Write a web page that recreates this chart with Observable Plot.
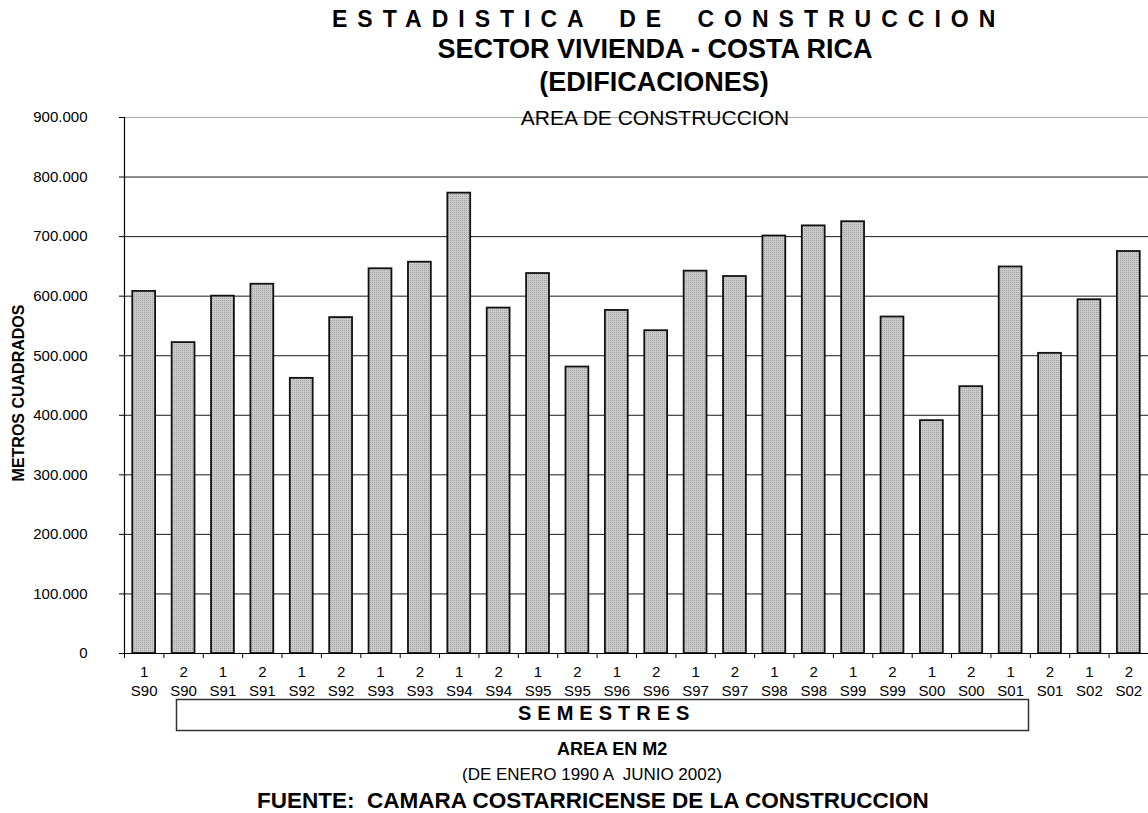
<!DOCTYPE html>
<html><head><meta charset="utf-8">
<script src="https://cdn.jsdelivr.net/npm/d3@7"></script>
<script src="https://cdn.jsdelivr.net/npm/@observablehq/plot@0.6"></script>
<style>
body{margin:0;background:#fff;}
#chart{position:relative;width:1148px;height:813px;}
</style>
</head><body><div id="chart"></div>
<script>
// ---- data ----
const semester = ["1","2","1","2","1","2","1","2","1","2","1","2","1","2","1","2","1","2","1","2","1","2","1","2","1","2"];
const years = ["S90","S90","S91","S91","S92","S92","S93","S93","S94","S94","S95","S95","S96","S96","S97","S97","S98","S98","S99","S99","S00","S00","S01","S01","S02","S02"];
const areaM2 = [608000,522000,600000,620000,462000,564000,646000,657000,773000,580000,638000,481000,576000,542000,642000,633000,701000,718000,725000,565000,391000,448000,649000,504000,594000,675000];
const yTicks = [0,100000,200000,300000,400000,500000,600000,700000,800000,900000];

const categories = semester.map((s, i) => s + "\n" + years[i]);
const data = categories.map((c, i) => ({cat: c, value: areaM2[i]}));

const W = 1148, H = 813, ML = 124, MT = 117, MB = 160;
const step = (W - ML) / categories.length;
const fmt = d => d === 0 ? "0" : d3.format(",")(d).replace(/,/g, ".");
const FONT = "'Liberation Sans', Arial, sans-serif";

const plot = Plot.plot({
  width: W, height: H,
  marginLeft: ML, marginRight: 0, marginTop: MT, marginBottom: MB,
  style: {fontFamily: FONT, fontSize: "15px", color: "#000", background: "#fff", overflow: "visible"},
  x: {domain: categories, paddingInner: 0.42, paddingOuter: 0.21, align: 0.5, round: false, label: null},
  y: {domain: [0, 900000], label: null},
  marks: [
    Plot.ruleY(yTicks.filter(d => d > 0 && d < 900000), {stroke: "#1a1a1a", strokeWidth: 1}),
    Plot.ruleY([900000], {stroke: "#a8a8a8", strokeWidth: 1}),
    Plot.barY(data, {x: "cat", y: "value", fill: "url(#barDots)", stroke: "#111", strokeWidth: 1.8}),
    Plot.ruleY([0], {stroke: "#000", strokeWidth: 1.2}),
    Plot.ruleX([categories[0]], {dx: -step / 2, y1: 0, y2: 900000, stroke: "#000", strokeWidth: 1.2}),
    Plot.axisY({ticks: yTicks, tickFormat: fmt, tickSize: 5, tickPadding: 32, label: null, fontSize: 15}),
    Plot.axisX({ticks: categories, tickSize: 5, tickFormat: () => "", dx: -step / 2, label: null}),
    Plot.axisX({ticks: categories, tickSize: 0, tickPadding: 10, lineHeight: 1.27, label: null, fontSize: 15})
  ]
});

const svg = d3.select(plot);
const defs = svg.insert("defs", ":first-child");
const pat = defs.append("pattern").attr("id", "barDots").attr("width", 2).attr("height", 2).attr("patternUnits", "userSpaceOnUse");
pat.append("rect").attr("width", 2).attr("height", 2).attr("fill", "#cacaca");
pat.append("rect").attr("width", 1).attr("height", 1).attr("fill", "#a4a4a4");

function txt(s, x, y, size, weight, opts = {}) {
  const t = svg.append("text")
    .attr("x", x).attr("y", y)
    .attr("font-family", FONT)
    .attr("font-size", size)
    .attr("font-weight", weight)
    .attr("fill", "#000")
    .attr("text-anchor", opts.anchor || "start")
    .style("white-space", "pre")
    .attr("xml:space", "preserve")
    .text(s);
  if (opts.ls) t.attr("letter-spacing", opts.ls);
  if (opts.ws) t.attr("word-spacing", opts.ws);
  if (opts.transform) t.attr("transform", opts.transform);
  return t;
}

// titles
txt("ESTADISTICA DE CONSTRUCCION", 332, 27, 23, "bold", {ls: 10, ws: 10});
txt("SECTOR VIVIENDA - COSTA RICA", 655, 58, 27, "bold", {anchor: "middle"});
txt("(EDIFICACIONES)", 654, 91, 27, "bold", {anchor: "middle"});
txt("AREA DE CONSTRUCCION", 655, 125, 21, "normal", {anchor: "middle"});

// y title
txt("METROS CUADRADOS", 0, 0, 16, "bold", {anchor: "middle", transform: "translate(24,393) rotate(-90)"});

// x title box
svg.append("rect").attr("x", 176.5).attr("y", 699.5).attr("width", 852).attr("height", 31)
  .attr("fill", "none").attr("stroke", "#333").attr("stroke-width", 1.5);
txt("SEMESTRES", 518, 720, 20, "bold", {ls: 6});

// footer
txt("AREA EN M2", 557, 755, 18, "bold");
txt("(DE ENERO 1990 A  JUNIO 2002)", 462, 780, 17, "normal");
txt("FUENTE:  CAMARA COSTARRICENSE DE LA CONSTRUCCION", 257, 808, 22.5, "bold");

document.getElementById("chart").appendChild(plot);
</script>
</body></html>
